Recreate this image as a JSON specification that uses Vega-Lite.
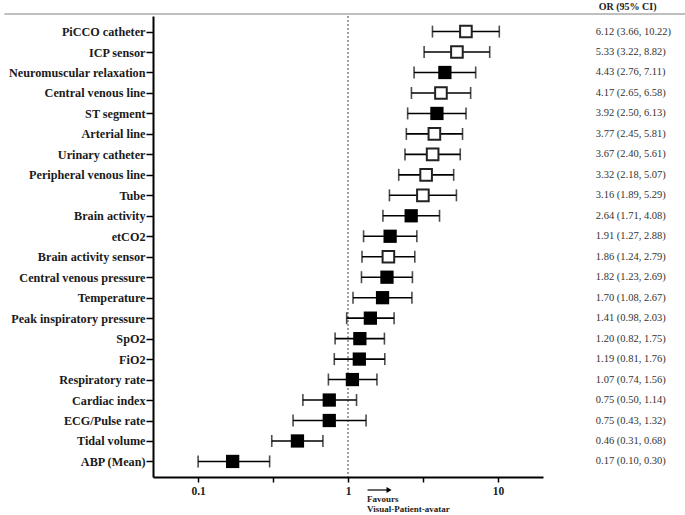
{
  "$schema": "https://vega.github.io/schema/vega-lite/v6.json",
  "width": 390,
  "height": 461,
  "autosize": {"type": "none"},
  "padding": {"left": 153, "top": 16, "right": 142, "bottom": 38},
  "background": "white",
  "config": {
    "view": {"stroke": null},
    "font": "Liberation Serif"
  },
  "datasets": {
    "or": [
      {"name": "PiCCO catheter", "or": 6.12, "low": 3.66, "high": 10.22, "kind": "open", "label": "6.12 (3.66, 10.22)"},
      {"name": "ICP sensor", "or": 5.33, "low": 3.22, "high": 8.82, "kind": "open", "label": "5.33 (3.22, 8.82)"},
      {"name": "Neuromuscular relaxation", "or": 4.43, "low": 2.76, "high": 7.11, "kind": "filled", "label": "4.43 (2.76, 7.11)"},
      {"name": "Central venous line", "or": 4.17, "low": 2.65, "high": 6.58, "kind": "open", "label": "4.17 (2.65, 6.58)"},
      {"name": "ST segment", "or": 3.92, "low": 2.50, "high": 6.13, "kind": "filled", "label": "3.92 (2.50, 6.13)"},
      {"name": "Arterial line", "or": 3.77, "low": 2.45, "high": 5.81, "kind": "open", "label": "3.77 (2.45, 5.81)"},
      {"name": "Urinary catheter", "or": 3.67, "low": 2.40, "high": 5.61, "kind": "open", "label": "3.67 (2.40, 5.61)"},
      {"name": "Peripheral venous line", "or": 3.32, "low": 2.18, "high": 5.07, "kind": "open", "label": "3.32 (2.18, 5.07)"},
      {"name": "Tube", "or": 3.16, "low": 1.89, "high": 5.29, "kind": "open", "label": "3.16 (1.89, 5.29)"},
      {"name": "Brain activity", "or": 2.64, "low": 1.71, "high": 4.08, "kind": "filled", "label": "2.64 (1.71, 4.08)"},
      {"name": "etCO2", "or": 1.91, "low": 1.27, "high": 2.88, "kind": "filled", "label": "1.91 (1.27, 2.88)"},
      {"name": "Brain activity sensor", "or": 1.86, "low": 1.24, "high": 2.79, "kind": "open", "label": "1.86 (1.24, 2.79)"},
      {"name": "Central venous pressure", "or": 1.82, "low": 1.23, "high": 2.69, "kind": "filled", "label": "1.82 (1.23, 2.69)"},
      {"name": "Temperature", "or": 1.70, "low": 1.08, "high": 2.67, "kind": "filled", "label": "1.70 (1.08, 2.67)"},
      {"name": "Peak inspiratory pressure", "or": 1.41, "low": 0.98, "high": 2.03, "kind": "filled", "label": "1.41 (0.98, 2.03)"},
      {"name": "SpO2", "or": 1.20, "low": 0.82, "high": 1.75, "kind": "filled", "label": "1.20 (0.82, 1.75)"},
      {"name": "FiO2", "or": 1.19, "low": 0.81, "high": 1.76, "kind": "filled", "label": "1.19 (0.81, 1.76)"},
      {"name": "Respiratory rate", "or": 1.07, "low": 0.74, "high": 1.56, "kind": "filled", "label": "1.07 (0.74, 1.56)"},
      {"name": "Cardiac index", "or": 0.75, "low": 0.50, "high": 1.14, "kind": "filled", "label": "0.75 (0.50, 1.14)"},
      {"name": "ECG/Pulse rate", "or": 0.75, "low": 0.43, "high": 1.32, "kind": "filled", "label": "0.75 (0.43, 1.32)"},
      {"name": "Tidal volume", "or": 0.46, "low": 0.31, "high": 0.68, "kind": "filled", "label": "0.46 (0.31, 0.68)"},
      {"name": "ABP (Mean)", "or": 0.17, "low": 0.10, "high": 0.30, "kind": "filled", "label": "0.17 (0.10, 0.30)"}
    ],
    "notes": [
      {"text": "Favours", "x": 1.34, "y": -0.0477},
      {"text": "Visual-Patient-avatar", "x": 1.34, "y": -0.0694}
    ]
  },
  "layer": [
    {
      "data": {"name": "or"},
      "encoding": {
        "y": {
          "field": "name",
          "type": "nominal",
          "sort": null,
          "scale": {"type": "point", "padding": 0.76},
          "axis": {
            "title": null,
            "grid": false,
            "domainColor": "black",
            "domainWidth": 2,
            "tickColor": "black",
            "tickWidth": 1.5,
            "tickSize": 7,
            "labelFont": "Liberation Serif",
            "labelFontSize": 12.2,
            "labelFontWeight": "bold",
            "labelColor": "#1a1a1a",
            "labelPadding": 1
          }
        }
      },
      "layer": [
        {
          "data": {"values": [{}]},
          "mark": {"type": "rule", "color": "#444", "strokeDash": [2, 2], "strokeWidth": 1},
          "encoding": {
            "x": {
              "datum": 1,
              "type": "quantitative",
              "scale": {"type": "log", "domain": [0.05, 20], "nice": false},
              "axis": {
                "title": null,
                "grid": false,
                "values": [0.1, 0.3162, 1, 3.162, 10],
                "labelExpr": "datum.value == 0.1 ? '0.1' : datum.value == 1 ? '1' : datum.value == 10 ? '10' : ''",
                "domainColor": "black",
                "domainWidth": 2,
                "tickColor": "black",
                "tickWidth": 1.5,
                "tickSize": 5,
                "labelFont": "Liberation Serif",
                "labelFontSize": 11.5,
                "labelFontWeight": "bold",
                "labelColor": "#222",
                "labelPadding": 3
              }
            },
            "y": null
          }
        },
        {
          "mark": {"type": "rule", "color": "black", "strokeWidth": 1.6},
          "encoding": {
            "x": {"field": "low", "type": "quantitative"},
            "x2": {"field": "high"}
          }
        },
        {
          "mark": {"type": "tick", "color": "black", "thickness": 1.6, "size": 12, "orient": "vertical"},
          "encoding": {"x": {"field": "low", "type": "quantitative"}}
        },
        {
          "mark": {"type": "tick", "color": "black", "thickness": 1.6, "size": 12, "orient": "vertical"},
          "encoding": {"x": {"field": "high", "type": "quantitative"}}
        },
        {
          "transform": [{"filter": "datum.kind == 'filled'"}],
          "mark": {"type": "point", "shape": "square", "filled": true, "color": "black", "size": 176, "opacity": 1},
          "encoding": {"x": {"field": "or", "type": "quantitative"}}
        },
        {
          "transform": [{"filter": "datum.kind == 'open'"}],
          "mark": {"type": "point", "shape": "square", "filled": true, "fill": "white", "stroke": "#222", "strokeWidth": 2, "size": 135, "opacity": 1},
          "encoding": {"x": {"field": "or", "type": "quantitative"}}
        },
        {
          "mark": {"type": "text", "align": "left", "baseline": "middle", "font": "Liberation Serif", "fontSize": 10.5, "color": "#333"},
          "encoding": {
            "x": {"datum": 45.0, "type": "quantitative"},
            "text": {"field": "label"}
          }
        }
      ]
    },
    {
      "data": {"values": [{}]},
      "layer": [
        {
          "mark": {"type": "rule", "color": "#aaa", "strokeWidth": 1.5},
          "encoding": {
            "x": {"datum": 0.0051, "type": "quantitative"},
            "x2": {"datum": 2000},
            "y": {"datum": 1.0043, "type": "quantitative", "scale": {"domain": [0, 1], "nice": false, "zero": false}, "axis": null}
          }
        },
        {
          "mark": {"type": "text", "align": "left", "baseline": "middle", "font": "Liberation Serif", "fontSize": 10, "fontWeight": "bold", "color": "#222", "text": "OR (95% CI)"},
          "encoding": {
            "x": {"datum": 47.1, "type": "quantitative"},
            "y": {"datum": 1.0195, "type": "quantitative", "axis": null}
          }
        },
        {
          "mark": {"type": "rule", "color": "black", "strokeWidth": 1.2},
          "encoding": {
            "x": {"datum": 1.35, "type": "quantitative"},
            "x2": {"datum": 1.85},
            "y": {"datum": -0.0282, "type": "quantitative", "axis": null}
          }
        },
        {
          "mark": {"type": "point", "shape": "triangle-right", "filled": true, "color": "black", "size": 35, "opacity": 1},
          "encoding": {
            "x": {"datum": 1.88, "type": "quantitative"},
            "y": {"datum": -0.0282, "type": "quantitative", "axis": null}
          }
        },
        {
          "data": {"name": "notes"},
          "mark": {"type": "text", "align": "left", "baseline": "middle", "font": "Liberation Serif", "fontSize": 9, "fontWeight": "bold", "color": "#222"},
          "encoding": {
            "x": {"field": "x", "type": "quantitative"},
            "y": {"field": "y", "type": "quantitative", "axis": null},
            "text": {"field": "text"}
          }
        }
      ]
    }
  ],
  "resolve": {"scale": {"y": "independent"}}
}
